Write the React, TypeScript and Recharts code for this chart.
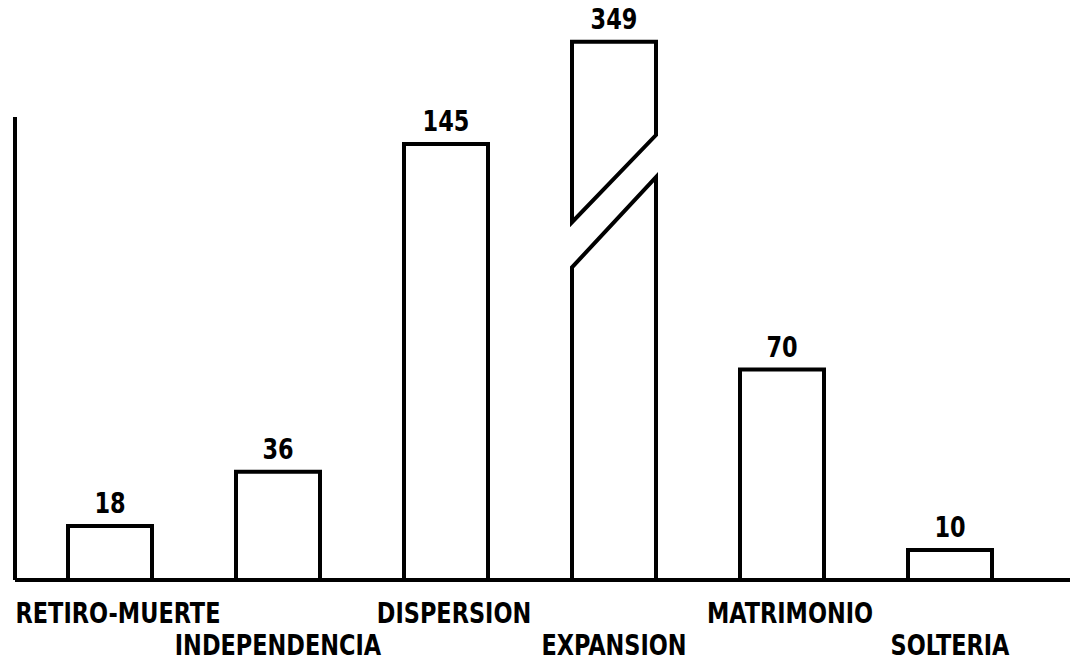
import React from "react";
import { Bar, BarChart, XAxis, YAxis } from "recharts";

const categories = ["RETIRO-MUERTE", "INDEPENDENCIA", "DISPERSION", "EXPANSION", "MATRIMONIO", "SOLTERIA"];
const counts = [18, 36, 145, 349, 70, 10];

// the axis stops here; taller bars are drawn broken
const AXIS_MAX = 154;
const BROKEN_TOP = 179;
// where the cut goes through a broken bar, in axis units
const CUT = { lowLeft: 104, lowRight: 134, highLeft: 119, highRight: 148 };

const FONT = "'DejaVu Sans Condensed', 'DejaVu Sans', sans-serif";
const INK = "#000";
const LINE = 4;

const data = categories.map((name, i) => ({
    name,
    count: counts[i],
    shown: Math.min(counts[i], AXIS_MAX),
}));

// narrow, tall lettering like the stencilled original
const Lettering = ({ x, y, size, children }: any) => (
    <text
        transform={`translate(${x},${y}) scale(0.86,1)`}
        textAnchor="middle"
        fontFamily={FONT}
        fontWeight="bold"
        fontSize={size}
        fill={INK}
    >
        {children}
    </text>
);

const BarShape = (props: any) => {
    const { x, y, width, height, payload } = props;
    const base = y + height;
    const unit = height / payload.shown;
    const at = (v: number) => base - v * unit;
    const right = x + width;
    const broken = payload.count > AXIS_MAX;
    const top = broken ? at(BROKEN_TOP) : y;

    return (
        <g>
            {broken ? (
                <>
                    <path
                        d={`M${x},${base} L${x},${at(CUT.lowLeft)} L${right},${at(CUT.lowRight)} L${right},${base}`}
                        fill="#fff"
                        stroke={INK}
                        strokeWidth={LINE}
                    />
                    <path
                        d={`M${x},${at(CUT.highLeft)} L${x},${top} L${right},${top} L${right},${at(CUT.highRight)} Z`}
                        fill="#fff"
                        stroke={INK}
                        strokeWidth={LINE}
                    />
                </>
            ) : (
                <path
                    d={`M${x},${base} L${x},${top} L${right},${top} L${right},${base}`}
                    fill="#fff"
                    stroke={INK}
                    strokeWidth={LINE}
                />
            )}
            <Lettering x={x + width / 2} y={top - 13} size={29}>
                {payload.count}
            </Lettering>
        </g>
    );
};

const CategoryTick = ({ x, y, payload, index }: any) => {
    const lower = index % 2 === 1;
    return (
        <Lettering x={x + (lower ? 0 : 8)} y={y + (lower ? 75 : 43)} size={29}>
            {payload.value}
        </Lettering>
    );
};

export default function App() {
    return (
        <div style={{ position: "absolute", left: 0, top: 0, background: "#fff" }}>
            <BarChart
                width={1070}
                height={662}
                data={data}
                margin={{ top: 117, right: 0, bottom: 0, left: 0 }}
                barSize={84}
            >
                <XAxis
                    dataKey="name"
                    height={82}
                    padding={{ left: 11, right: 36 }}
                    axisLine={{ stroke: INK, strokeWidth: LINE }}
                    tickLine={false}
                    tickSize={0}
                    tickMargin={0}
                    interval={0}
                    tick={<CategoryTick />}
                />
                <YAxis
                    width={15}
                    domain={[0, AXIS_MAX]}
                    axisLine={{ stroke: INK, strokeWidth: LINE }}
                    tick={false}
                    tickLine={false}
                />
                <Bar dataKey="shown" shape={<BarShape />} isAnimationActive={false} />
            </BarChart>
        </div>
    );
}
